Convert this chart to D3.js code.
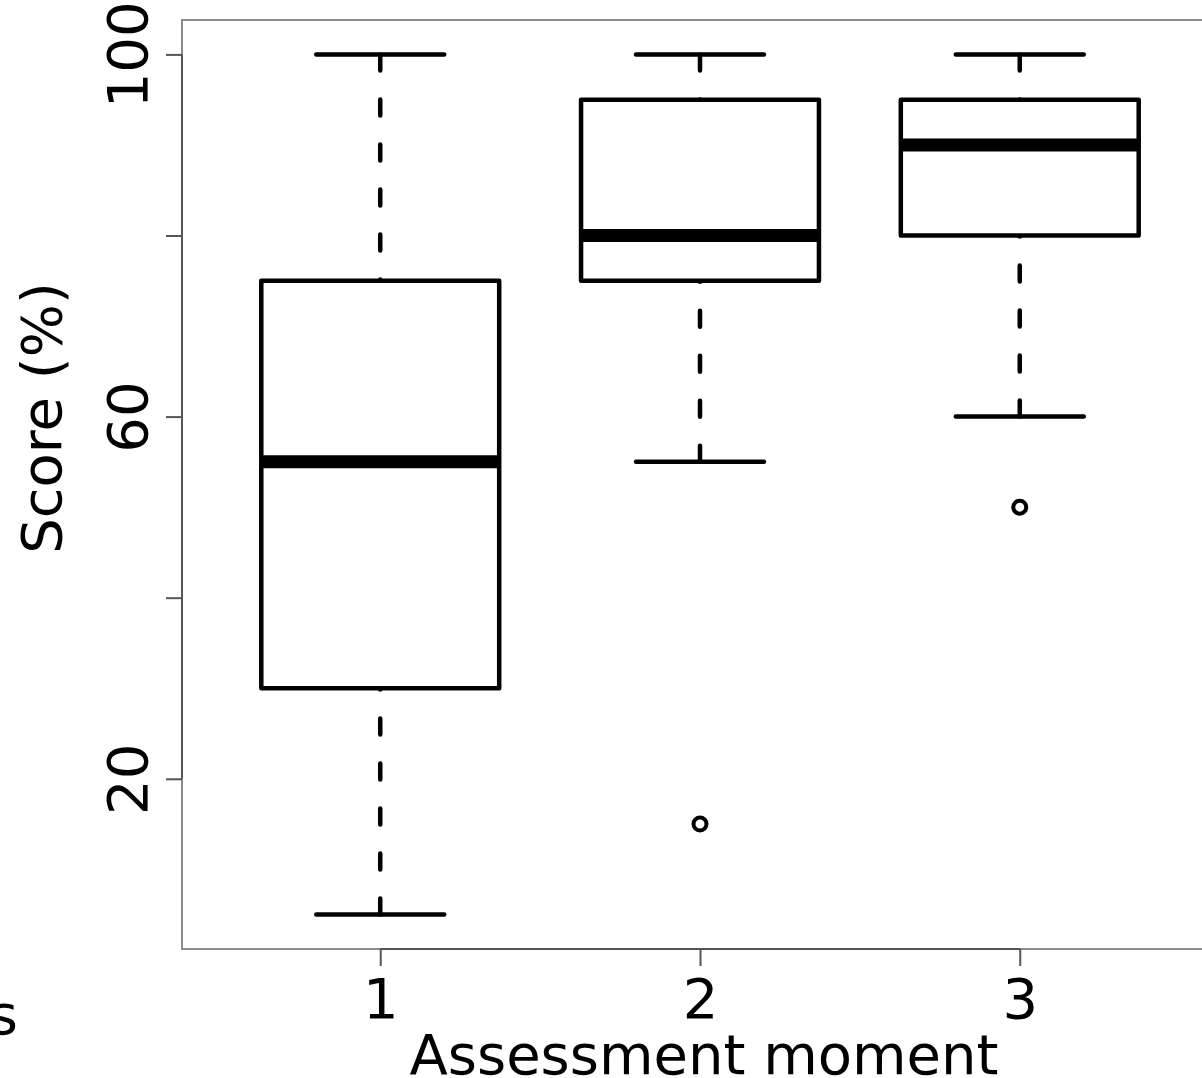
<!DOCTYPE html>
<html>
<head>
<meta charset="utf-8">
<script src="https://cdn.jsdelivr.net/npm/d3@7"></script>
<style>
  html, body { margin: 0; padding: 0; background: #fff; }
  svg { display: block; }
  text { font-family: "DejaVu Sans", Verdana, sans-serif; fill: #000; }
</style>
</head>
<body>
<svg id="chart" width="1202" height="1078"></svg>
<script>
// Five-number summaries per assessment moment
const moments      = [1, 2, 3];
const whiskerLow   = [5, 55, 60];
const quartile1    = [30, 75, 80];
const medians      = [55, 80, 90];
const quartile3    = [75, 95, 95];
const whiskerHigh  = [100, 100, 100];
const outliers     = [[], [15], [50]];

const yTicks       = [20, 40, 60, 80, 100];
const yTickLabels  = [20, 60, 100];
const xTickLabels  = ["1", "2", "3"];

const svg = d3.select("#chart");

// Plot region (base-graphics style: ranges padded by 4%)
const plot = { left: 182, right: 1218, top: 20, bottom: 949 };

const y = d3.scaleLinear().domain([1.2, 103.8]).range([plot.bottom, plot.top]);
const x = d3.scaleLinear().domain([0.38, 3.62]).range([plot.left, plot.right]);

const boxHalf = 0.372;   // half box width in x units
const capHalf = 0.2;     // half staple width in x units

const axisColor = "#555";
const frameColor = "#8c8c8c";

// Frame
svg.append("rect")
  .attr("x", plot.left).attr("y", plot.top)
  .attr("width", plot.right - plot.left).attr("height", plot.bottom - plot.top)
  .attr("fill", "none").attr("stroke", frameColor).attr("stroke-width", 2);

// Y axis
const yAxis = d3.axisLeft(y).tickValues(yTicks).tickSize(16).tickSizeOuter(0)
  .tickFormat(d => yTickLabels.includes(d) ? String(d) : "");
const gy = svg.append("g").attr("transform", `translate(${plot.left},0)`).call(yAxis);
gy.select(".domain").remove();
gy.selectAll(".tick line").attr("stroke", axisColor).attr("stroke-width", 2);
gy.selectAll(".tick text")
  .attr("x", null).attr("dy", null)
  .attr("transform", "translate(-35,0) rotate(-90)")
  .attr("text-anchor", "middle")
  .style("font-size", "56px");
gy.append("line")
  .attr("x1", 0).attr("x2", 0)
  .attr("y1", y(d3.min(yTicks))).attr("y2", y(d3.max(yTicks)))
  .attr("stroke", axisColor).attr("stroke-width", 2);

// X axis
const xAxis = d3.axisBottom(x).tickValues(moments).tickSize(17).tickSizeOuter(0)
  .tickFormat((d, i) => xTickLabels[i]);
const gx = svg.append("g").attr("transform", `translate(0,${plot.bottom})`).call(xAxis);
gx.select(".domain").remove();
gx.selectAll(".tick line").attr("stroke", axisColor).attr("stroke-width", 2);
gx.selectAll(".tick text")
  .attr("y", 69).attr("dy", null)
  .attr("text-anchor", "middle")
  .style("font-size", "56px");
gx.append("line")
  .attr("y1", 0).attr("y2", 0)
  .attr("x1", x(d3.min(moments))).attr("x2", x(d3.max(moments)))
  .attr("stroke", axisColor).attr("stroke-width", 2);

// Axis titles
svg.append("text")
  .attr("x", 704).attr("y", 1074)
  .attr("text-anchor", "middle")
  .style("font-size", "56px")
  .text("Assessment moment");

svg.append("text")
  .attr("transform", "translate(61,418) rotate(-90)")
  .attr("text-anchor", "middle")
  .style("font-size", "56px")
  .text("Score (%)");

svg.append("text")
  .attr("x", 18).attr("y", 1034)
  .attr("text-anchor", "end")
  .style("font-size", "56px")
  .text("s");

// Boxes
const boxes = svg.append("g").attr("class", "boxes");
moments.forEach((m, i) => {
  const g = boxes.append("g");
  const cx = x(m);

  // Dashed whiskers, drawn from whisker end toward the box
  [[whiskerLow[i], quartile1[i]], [whiskerHigh[i], quartile3[i]]].forEach(([from, to]) => {
    g.append("line")
      .attr("x1", cx).attr("x2", cx)
      .attr("y1", y(from)).attr("y2", y(to))
      .attr("stroke", "#000").attr("stroke-width", 4.5)
      .attr("stroke-linecap", "round")
      .attr("stroke-dasharray", "16 29");
  });

  // Staples
  [whiskerLow[i], whiskerHigh[i]].forEach(v => {
    g.append("line")
      .attr("x1", x(m - capHalf)).attr("x2", x(m + capHalf))
      .attr("y1", y(v)).attr("y2", y(v))
      .attr("stroke", "#000").attr("stroke-width", 4.5)
      .attr("stroke-linecap", "round");
  });

  // Box
  g.append("rect")
    .attr("x", x(m - boxHalf)).attr("width", x(m + boxHalf) - x(m - boxHalf))
    .attr("y", y(quartile3[i])).attr("height", y(quartile1[i]) - y(quartile3[i]))
    .attr("fill", "#fff").attr("stroke", "#000").attr("stroke-width", 4.5)
    .attr("stroke-linejoin", "round");

  // Median
  g.append("line")
    .attr("x1", x(m - boxHalf)).attr("x2", x(m + boxHalf))
    .attr("y1", y(medians[i])).attr("y2", y(medians[i]))
    .attr("stroke", "#000").attr("stroke-width", 13);

  // Outliers
  outliers[i].forEach(v => {
    g.append("circle")
      .attr("cx", cx).attr("cy", y(v)).attr("r", 6.5)
      .attr("fill", "none").attr("stroke", "#000").attr("stroke-width", 4);
  });
});
</script>
</body>
</html>
